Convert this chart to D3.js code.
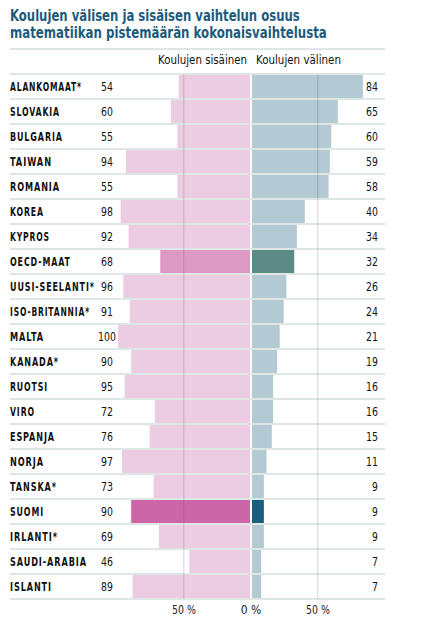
<!DOCTYPE html>
<html>
<head>
<meta charset="utf-8">
<script src="https://cdn.jsdelivr.net/npm/d3@7"></script>
<style>
  body { margin: 0; background: #fff; }
  text { font-family: "DejaVu Sans Condensed", "DejaVu Sans", sans-serif; font-stretch: condensed; }
</style>
</head>
<body>
<script>
// data
var countries = ["ALANKOMAAT*", "SLOVAKIA", "BULGARIA", "TAIWAN", "ROMANIA", "KOREA", "KYPROS",
  "OECD-MAAT", "UUSI-SEELANTI*", "ISO-BRITANNIA*", "MALTA", "KANADA*", "RUOTSI", "VIRO",
  "ESPANJA", "NORJA", "TANSKA*", "SUOMI", "IRLANTI*", "SAUDI-ARABIA", "ISLANTI"];
var within = [54, 60, 55, 94, 55, 98, 92, 68, 96, 91, 100, 90, 95, 72, 76, 97, 73, 90, 69, 46, 89];
var between = [84, 65, 60, 59, 58, 40, 34, 32, 26, 24, 21, 19, 16, 16, 15, 11, 9, 9, 9, 7, 7];
var ticks = [50, 0, 50];

var svgWidth = 431, svgHeight = 636;
var svg = d3.select("body").append("svg")
    .attr("width", svgWidth)
    .attr("height", svgHeight);

var lineColor = "#dfe6e6";

// squeeze a text horizontally (around its x) so it is at most w px wide
function fit(sel, w) {
  sel.each(function() {
    var len = this.getBBox().width;
    if (len > w) {
      var x = +d3.select(this).attr("x");
      d3.select(this).attr("transform",
        "translate(" + x + ",0) scale(" + (w / len) + ",1) translate(" + (-x) + ",0)");
    }
  });
}

// title
svg.append("text")
    .attr("x", 10).attr("y", 21)
    .attr("font-size", 15.5).attr("font-weight", "bold")
    .attr("fill", "#1d5b7c")
    .text("Koulujen välisen ja sisäisen vaihtelun osuus")
    .call(fit, 290);
svg.append("text")
    .attr("x", 10).attr("y", 38)
    .attr("font-size", 15.5).attr("font-weight", "bold")
    .attr("fill", "#1d5b7c")
    .text("matematiikan pistemäärän kokonaisvaihtelusta")
    .call(fit, 317);

svg.append("rect").attr("x", 10).attr("y", 48).attr("width", 375).attr("height", 2).attr("fill", lineColor);

// scales
var y = d3.scaleBand().domain(countries).range([74, 599]);
var xl = d3.scaleLinear().domain([0, 100]).range([250, 118]);
var xr = d3.scaleLinear().domain([0, 100]).range([252, 384]);

// headers
svg.append("text").attr("x", 247).attr("y", 64).attr("text-anchor", "end")
    .attr("font-size", 13).attr("fill", "#111").text("Koulujen sisäinen")
    .call(fit, 89);
svg.append("text").attr("x", 256).attr("y", 64)
    .attr("font-size", 13).attr("fill", "#111").text("Koulujen välinen")
    .call(fit, 85);

// row lines
svg.selectAll(".rowline").data(d3.range(countries.length + 1)).enter().append("rect")
    .attr("x", 10).attr("width", 375)
    .attr("y", function(i) { return 74 + i * y.step() - 1; })
    .attr("height", 2).attr("fill", lineColor);

function leftColor(d) {
  return d === "SUOMI" ? "#cc66a7" : d === "OECD-MAAT" ? "#dc99c4" : "#eccce1";
}
function rightColor(d) {
  return d === "SUOMI" ? "#1a5e80" : d === "OECD-MAAT" ? "#5b8b82" : "#b3c9d3";
}

var rows = svg.selectAll(".row").data(countries).enter().append("g");

rows.append("rect")
    .attr("x", function(d, i) { return xl(within[i]); })
    .attr("y", function(d) { return y(d) + 1; })
    .attr("width", function(d, i) { return xl(0) - xl(within[i]); })
    .attr("height", y.step() - 2)
    .attr("fill", function(d) { return leftColor(d); });

rows.append("rect")
    .attr("x", xr(0))
    .attr("y", function(d) { return y(d) + 1; })
    .attr("width", function(d, i) { return xr(between[i]) - xr(0); })
    .attr("height", y.step() - 2)
    .attr("fill", function(d) { return rightColor(d); });

// 50 % gridlines
svg.append("rect").attr("x", xl(50) - 1).attr("y", 74).attr("width", 1.5).attr("height", 525)
    .attr("fill", "rgba(60,80,80,0.16)");
svg.append("rect").attr("x", xr(50) - 1).attr("y", 74).attr("width", 1.5).attr("height", 525)
    .attr("fill", "rgba(60,80,80,0.16)");

// labels, widths
var labelW = {"ALANKOMAAT*": 72, "SLOVAKIA": 50, "BULGARIA": 53, "TAIWAN": 42, "ROMANIA": 50,
  "KOREA": 34, "KYPROS": 40, "OECD-MAAT": 61, "UUSI-SEELANTI*": 85, "ISO-BRITANNIA*": 80,
  "MALTA": 34, "KANADA*": 49, "RUOTSI": 38, "VIRO": 25, "ESPANJA": 45, "NORJA": 34,
  "TANSKA*": 47, "SUOMI": 34, "IRLANTI*": 48, "SAUDI-ARABIA": 77, "ISLANTI": 42};

rows.append("text")
    .attr("x", 10)
    .attr("y", function(d) { return y(d) + y.step() / 2 + 4.5; })
    .attr("font-size", 12).attr("font-weight", "bold")
    .attr("letter-spacing", 1.2)
    .attr("fill", "#111")
    .text(function(d) { return d; })
    .each(function(d) { d3.select(this).call(fit, labelW[d]); });

rows.append("text")
    .attr("x", 107).attr("text-anchor", "middle")
    .attr("y", function(d) { return y(d) + y.step() / 2 + 4.5; })
    .attr("font-size", 12).attr("fill", "#111")
    .text(function(d, i) { return within[i]; })
    .each(function(d, i) { d3.select(this).call(fit, within[i] >= 100 ? 18 : 12); });

rows.append("text")
    .attr("x", 378).attr("text-anchor", "end")
    .attr("y", function(d) { return y(d) + y.step() / 2 + 4.5; })
    .attr("font-size", 12).attr("fill", "#111")
    .text(function(d, i) { return between[i]; })
    .each(function(d, i) { d3.select(this).call(fit, between[i] >= 10 ? 12 : 6); });

// bottom tick labels
var tickX = [xl(50), (xl(0) + xr(0)) / 2, xr(50)];
svg.selectAll(".tick").data(ticks).enter().append("text")
    .attr("x", function(d, i) { return tickX[i]; })
    .attr("y", 614).attr("text-anchor", "middle")
    .attr("font-size", 12).attr("fill", "#222")
    .text(function(d) { return d + " %"; })
    .call(fit, 24);
</script>
</body>
</html>
